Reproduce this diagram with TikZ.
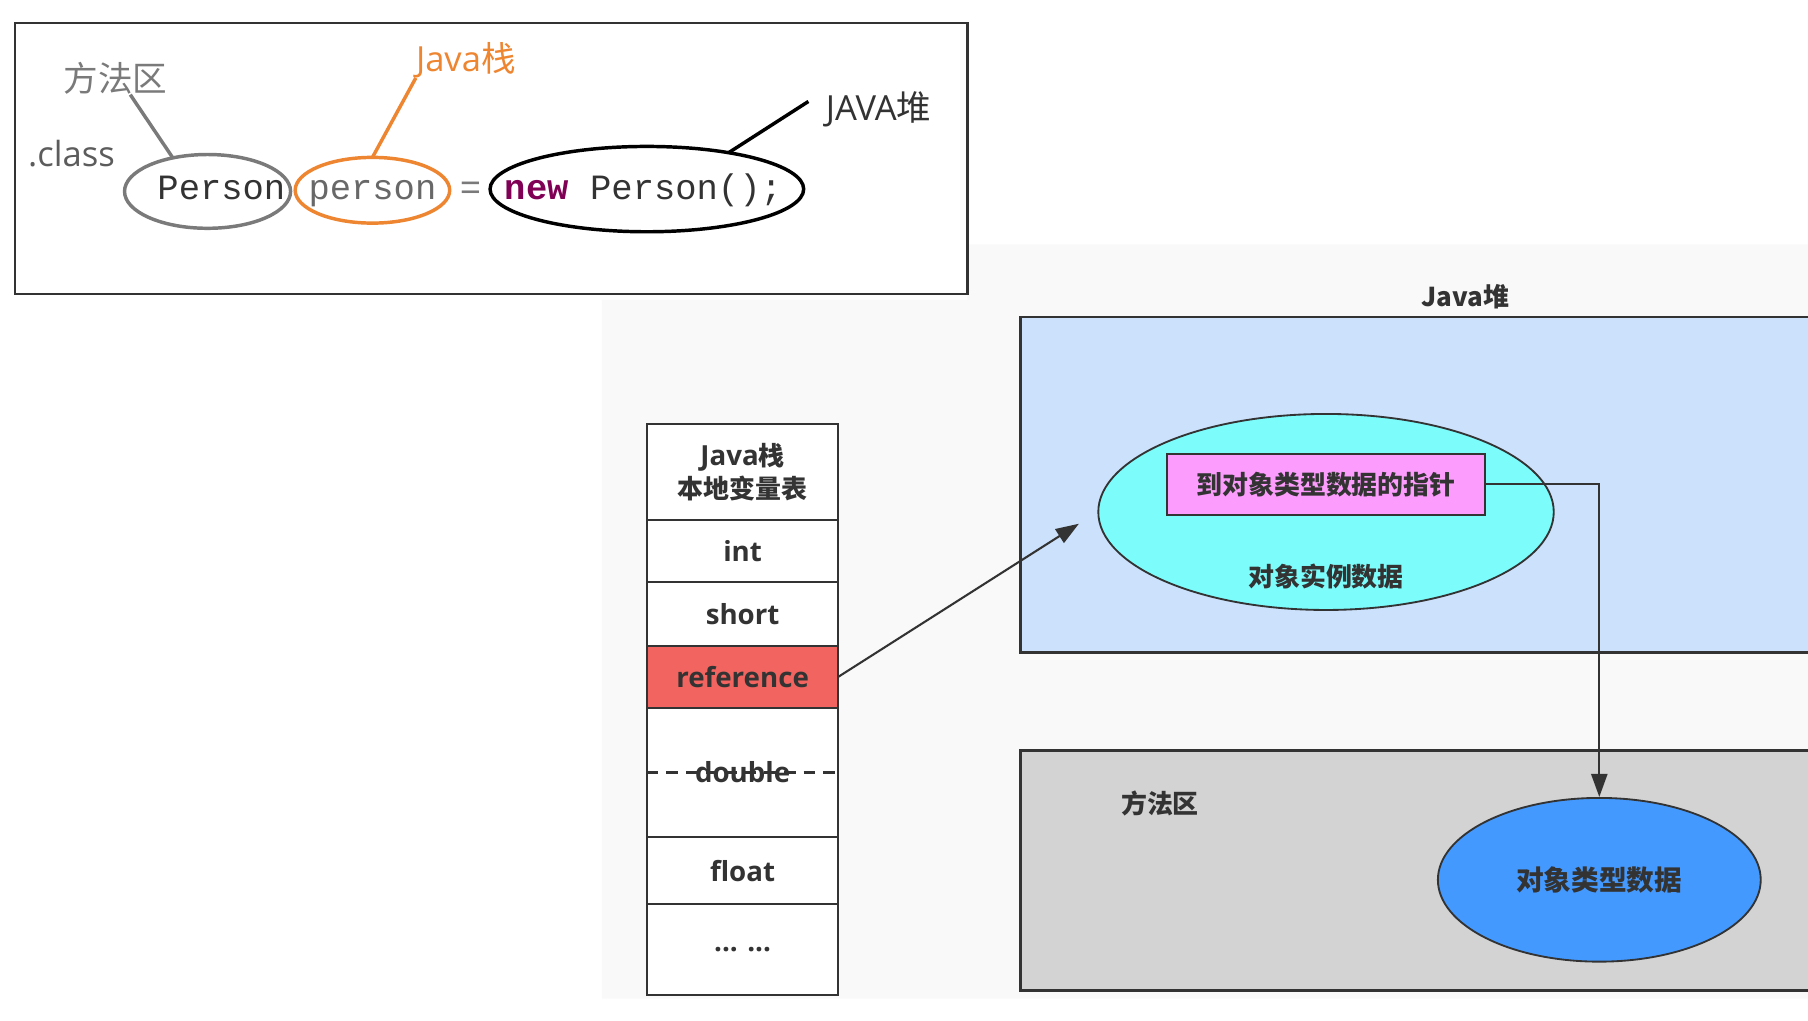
\documentclass[tikz,border=0pt]{standalone}
\usepackage{fontspec}
\usepackage{tikz}
\usetikzlibrary{arrows.meta,positioning,calc,shapes.geometric}
\setmainfont{Open Sans}
\setmonofont{Liberation Mono}
\newfontfamily\zh{Noto Sans CJK SC}
\newcommand\zhs{\zh\fontsize{22.5}{27}\selectfont}
\definecolor{jvink}{HTML}{333333}
\definecolor{jvmid}{HTML}{7A7A7A}
\definecolor{jvorange}{HTML}{EE8530}
\definecolor{jvpurple}{HTML}{7F0055}
\definecolor{jvbg}{HTML}{F8F9F8}
\definecolor{jvheap}{HTML}{CCE1FB}
\definecolor{jvcyan}{HTML}{7DFCFC}
\definecolor{jvpink}{HTML}{FC9CFC}
\definecolor{jvblue}{HTML}{4499FF}
\definecolor{jvgray}{HTML}{D3D3D3}
\definecolor{jvred}{HTML}{F2645F}
\tikzset{
  codeText/.style={font=\ttfamily\fontsize{30.8}{34}\selectfont, text=jvink, inner sep=0pt, anchor=base},
  noteText/.style={font=\fontsize{30}{34}\selectfont, inner sep=0pt},
  codeRing/.style={ellipse, line width=3pt, outer sep=0pt},
  stackCell/.style={draw=jvink, line width=2pt, fill=white, minimum width=166pt, outer sep=0pt, inner sep=0pt, align=center, text=jvink, font=\bfseries\fontsize{24}{28}\selectfont},
  areaBox/.style={draw=jvink, line width=2pt, anchor=north west, minimum width=720pt, outer sep=0pt},
  zhLabel/.style={font=\zh\bfseries\fontsize{22.5}{26}\selectfont, text=jvink},
  linkArrow/.style={-{Triangle[length=20pt,width=14pt]}, line width=1.8pt, draw=jvink}
}
\begin{document}
\begin{tikzpicture}[x=1pt,y=-1pt]
  \useasboundingbox (0,0) rectangle (1568,885);
  \fill[jvbg] (522,260) -- (839,260) -- (839,212) -- (1580,212) -- (1580,866) -- (522,866) -- cycle;

  % code line with its callouts
  \node[draw=jvink, line width=2pt, fill=white, minimum width=826pt, minimum height=235pt, anchor=north west, outer sep=0pt] (codeBox) at (13,20) {};
  \node[codeRing, draw=jvmid, minimum width=144pt, minimum height=64pt] (eClass) at (180,166) {};
  \node[codeRing, draw=jvorange, minimum width=134pt, minimum height=57pt] (ePerson) at (323,165) {};
  \node[codeRing, draw=black, minimum width=272pt, minimum height=74pt] (eNew) at (561,164) {};
  \node[codeText] (wClass) at (192,173) {Person};
  \node[codeText, text=jvmid!85!black] (wPerson) at (323,173) {person};
  \node[codeText, text=jvmid] (wEq) at (408,173) {=};
  \node[codeText] (wNew) at (558,173) {\textcolor{jvpurple}{\bfseries new} Person();};
  \node[noteText, font=\zh\fontsize{30}{34}\selectfont, text=jvmid] (lMethod) at (100,68) {方法区};
  \node[noteText, text=jvink!80] (lClass) at (62,133) {.class};
  \node[noteText, text=jvorange] (lStack) at (404,52) {Java{\zh 栈}};
  \node[noteText, text=jvink] (lHeapTop) at (762,95) {JAVA{\zh 堆}};
  \draw[jvmid, line width=3pt] (eClass.136) -- ($(lMethod.south)+(13,0)$);
  \draw[jvorange, line width=3pt] (ePerson.north) -- (lStack.south west);
  \draw[black, line width=3pt] (eNew.24) -- ($(lHeapTop.west)+(-15,-7)$);

  % local variable table
  \node[stackCell, minimum height=83pt, anchor=north west] (sHead) at (561,368) {Java{\zhs 栈}\\{\zhs 本地变量表}};
  \node[stackCell, minimum height=54pt, below=0pt of sHead] (sInt) {int};
  \node[stackCell, minimum height=55pt, below=0pt of sInt] (sShort) {short};
  \node[stackCell, minimum height=54pt, fill=jvred, below=0pt of sShort] (sRef) {reference};
  \node[stackCell, minimum height=112pt, below=0pt of sRef] (sDouble) {double};
  \node[stackCell, minimum height=58pt, below=0pt of sDouble] (sFloat) {float};
  \node[stackCell, minimum height=79pt, below=0pt of sFloat] (sMore) {... ...};
  \draw[jvink, line width=2pt, dash pattern=on 10pt off 7pt] (sDouble.west) -- (sDouble.east);

  % heap and method area
  \node[zhLabel] (lHeap) at (1271,257) {Java{\zhs 堆}};
  \node[areaBox, fill=jvheap, minimum height=291pt] (heap) at (885,275) {};
  \node[ellipse, draw=jvink, line width=1.6pt, fill=jvcyan, minimum width=395pt, minimum height=170pt] (inst) at (1150,444) {};
  \node[zhLabel, draw=jvink, line width=2pt, fill=jvpink, minimum width=276pt, minimum height=53pt] (ptr) at (1150,420) {到对象类型数据的指针};
  \node[zhLabel] (instText) at (1150,500) {对象实例数据};
  \node[areaBox, fill=jvgray, minimum height=208pt] (method) at (885,651) {};
  \node[zhLabel] (lArea) at (1006,697) {方法区};
  \node[ellipse, draw=jvink, line width=1.6pt, fill=jvblue, minimum width=280pt, minimum height=142pt, zhLabel, font=\zh\bfseries\fontsize{24}{28}\selectfont] (typeData) at (1387,763) {对象类型数据};

  \draw[linkArrow, shorten >=19pt] (sRef.east) -- (inst.west);
  \draw[linkArrow] (ptr.east) -| (typeData.north);
\end{tikzpicture}
\end{document}
